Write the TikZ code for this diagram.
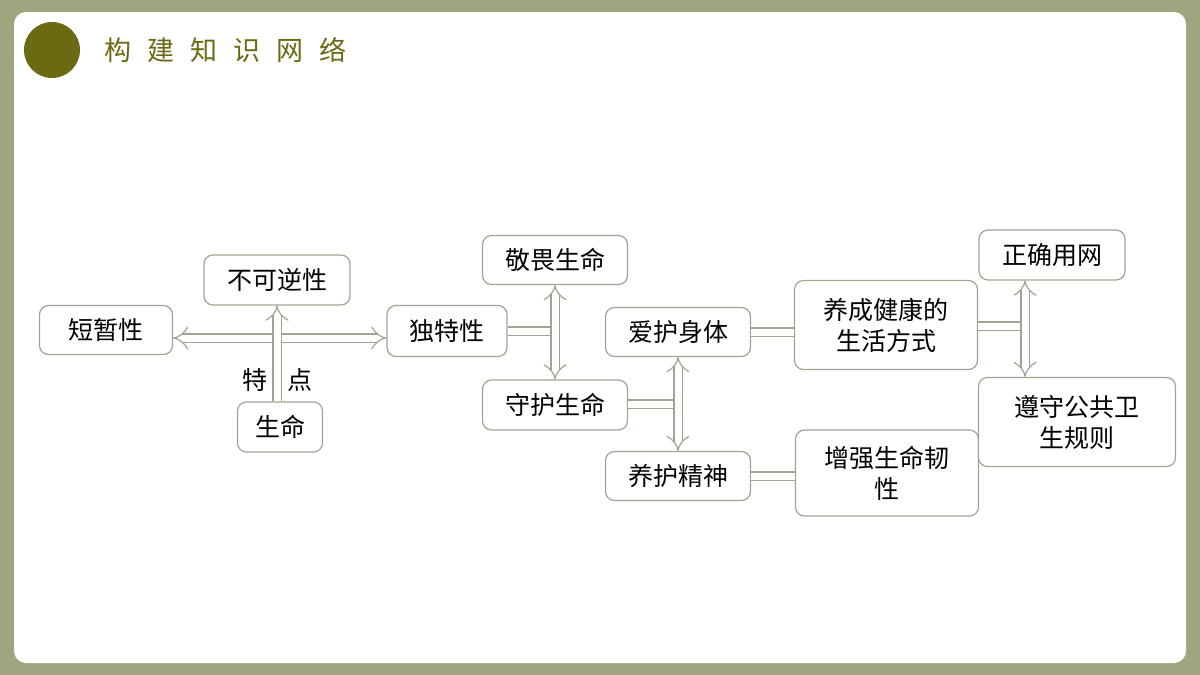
\documentclass[tikz,border=0pt]{standalone}
\usepackage{fontspec}
\newfontfamily\cjk{Noto Sans CJK SC}
\usetikzlibrary{arrows.meta}
\definecolor{frameolive}{HTML}{9DA67F}
\definecolor{darkolive}{HTML}{6B6A12}
\definecolor{linegray}{HTML}{A3A391}
\tikzset{
    box/.style = {draw=linegray, line width=1.2pt, rounded corners=9pt, fill=white,
                  align=center, font=\cjk\fontsize{25}{31}\selectfont, inner sep=0pt},
    dbl/.style = {draw=linegray, line width=1.2pt, double=white, double distance=7pt},
    tip/.style = {-{Implies[length=11pt,width=20pt]}},
    tips/.style = {{Implies[length=11pt,width=20pt]}-{Implies[length=11pt,width=20pt]}}
}
\begin{document}
\begin{tikzpicture}[x=1pt,y=-1pt]

            \fill[frameolive] (0,0) rectangle (1200,675);
            \fill[white,rounded corners=12pt] (14,12) rectangle (1186,663);
            \fill[darkolive] (52,50) circle (28);
            \node[anchor=west,text=darkolive,font=\cjk\fontsize{27}{32}\selectfont] (title) at (101,50)
                {构\hspace{16pt}建\hspace{16pt}知\hspace{16pt}识\hspace{16pt}网\hspace{16pt}络};

            \path   (106,330)  node (dz) [box,minimum width=133pt,minimum height=49pt] {短暂性}
                    (277,280)  node (bk) [box,minimum width=146pt,minimum height=50pt] {不可逆性}
                    (280,427)  node (sm) [box,minimum width=85pt,minimum height=50pt] {生命}
                    (447,331)  node (dt) [box,minimum width=120pt,minimum height=51pt] {独特性}
                    (555,260)  node (jw) [box,minimum width=145pt,minimum height=49pt] {敬畏生命}
                    (555,405)  node (sh) [box,minimum width=145pt,minimum height=50pt] {守护生命}
                    (678,332)  node (ah) [box,minimum width=145pt,minimum height=49pt] {爱护身体}
                    (678,476)  node (yh) [box,minimum width=145pt,minimum height=49pt] {养护精神}
                    (886,325)  node (yc) [box,minimum width=183pt,minimum height=89pt] {养成健康的\\生活方式}
                    (887,473)  node (zq) [box,minimum width=183pt,minimum height=86pt] {增强生命韧\\性}
                    (1052,255) node (zw) [box,minimum width=146pt,minimum height=50pt] {正确用网}
                    (1077,422) node (zs) [box,minimum width=197pt,minimum height=89pt] {遵守公共卫\\生规则};

            \coordinate (j1) at (277,338);
            \coordinate (j2) at (550,331);
            \coordinate (j3) at (675,404);
            \coordinate (j4) at (1020,326);

            \draw[dbl,tips] (dz.east |- j1) -- (dt.west |- j1);
            \draw[dbl] (sm.north -| j1) -- (j1);
            \draw[dbl,tip] (j1) -- (bk.south -| j1);
            \node[font=\cjk\fontsize{25}{30}\selectfont] (te) at (255,380) {特};
            \node[font=\cjk\fontsize{25}{30}\selectfont] (di) at (300,380) {点};

            \draw[dbl] (dt.east) -- (j2);
            \draw[dbl,tips] (jw.south) -- (sh.north);
            \draw[dbl] (sh.east |- j3) -- (j3);
            \draw[dbl,tips] (ah.south) -- (yh.north);
            \draw[dbl] (ah.east) -- (ah.east -| yc.west);
            \draw[dbl] (yh.east) -- (yh.east -| zq.west);
            \draw[dbl] (yc.east |- j4) -- (j4);
            \draw[dbl,tips] (zw.south -| 1025,0) -- (zs.north -| 1025,0);

\end{tikzpicture}
\end{document}
